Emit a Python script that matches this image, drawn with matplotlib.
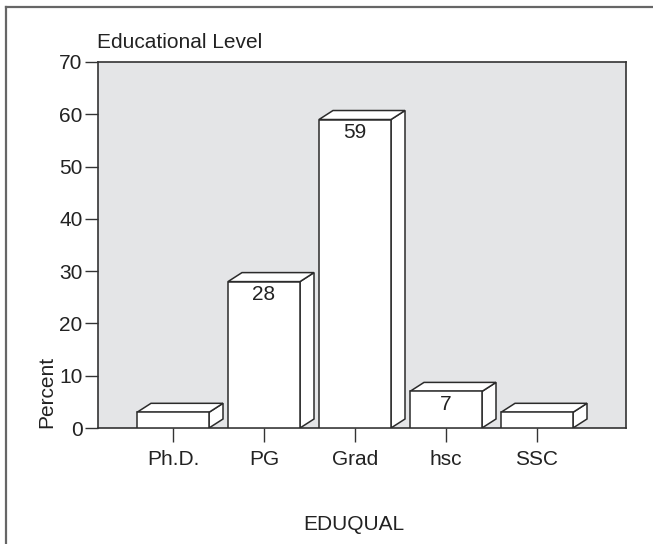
import matplotlib
matplotlib.use("Agg")
import matplotlib.pyplot as plt
from matplotlib.patches import Polygon, Rectangle
from matplotlib.lines import Line2D

categories = ["Ph.D.", "PG", "Grad", "hsc", "SSC"]
percent = [3, 28, 59, 7, 3]
value_labels = ["", "28", "59", "7", ""]
yticks = [0, 10, 20, 30, 40, 50, 60, 70]

W, H = 653, 544
DPI = 100
FS = 15
plt.rcParams['font.family'] = ['Liberation Sans', 'DejaVu Sans']
fig = plt.figure(figsize=(W / DPI, H / DPI), dpi=DPI)

# axes placement in pixels
left, right, top, bottom = 98, 626, 62, 428
ax = fig.add_axes([left / W, 1 - bottom / H, (right - left) / W, (bottom - top) / H])
ax.set_facecolor("#e4e5e7")

cat_px = 91.0
x0 = -(173 - left) / cat_px
x1 = x0 + (right - left) / cat_px
ax.set_xlim(x0, x1)
ax.set_ylim(0, 70)

px_per_y = (bottom - top) / 70.0
bw = 72 / cat_px
dx = 14 / cat_px
dy = 9 / px_per_y

ec = "#2b2b2b"
lw = 1.1
for i, v in enumerate(percent):
    l = i - bw / 2
    r = i + bw / 2
    front = Rectangle((l, 0), bw, v, facecolor="white", edgecolor=ec, lw=lw, zorder=3)
    topf = Polygon([(l, v), (l + dx, v + dy), (r + dx, v + dy), (r, v)], closed=True,
                   facecolor="white", edgecolor=ec, lw=lw, zorder=3, joinstyle="miter")
    side = Polygon([(r, 0), (r + dx, dy), (r + dx, v + dy), (r, v)], closed=True,
                   facecolor="white", edgecolor=ec, lw=lw, zorder=3, joinstyle="miter")
    ax.add_patch(side)
    ax.add_patch(topf)
    ax.add_patch(front)
    if value_labels[i]:
        ax.annotate(value_labels[i], (i, v), xytext=(0, -2.5), textcoords="offset points",
                    ha="center", va="top", fontsize=FS, color="#222222", zorder=4)

ax.set_xticks(range(len(categories)))
ax.set_xticklabels(categories, fontsize=FS, color="#222222")
ax.set_yticks(yticks)
ax.set_yticklabels([str(t) for t in yticks], fontsize=FS, color="#222222")
ax.tick_params(axis="y", length=9.5, width=1.0, color="#333333", pad=1.5)
ax.tick_params(axis="x", length=10, width=1.0, color="#333333", pad=5.5)
for s in ax.spines.values():
    s.set_color("#333333")
    s.set_linewidth(1.2)

fig.text(97 / W, 1 - 42 / H, "Educational Level", ha="left", va="center",
         fontsize=FS, color="#222222")
fig.text(47 / W, 1 - 428 / H, "Percent", ha="center", va="bottom", rotation=90,
         fontsize=FS, color="#222222")
fig.text(354 / W, 1 - 525 / H, "EDUQUAL", ha="center", va="center",
         fontsize=FS, color="#222222")

# outer frame (top and left edges visible)
fig.add_artist(Line2D([6 / W, 1.0], [1 - 7 / H, 1 - 7 / H], transform=fig.transFigure,
                      color="#666666", lw=1.6))
fig.add_artist(Line2D([6 / W, 6 / W], [1 - 7 / H, 0.0], transform=fig.transFigure,
                      color="#666666", lw=1.6))

fig.savefig("out.png", dpi=DPI, facecolor="white")
